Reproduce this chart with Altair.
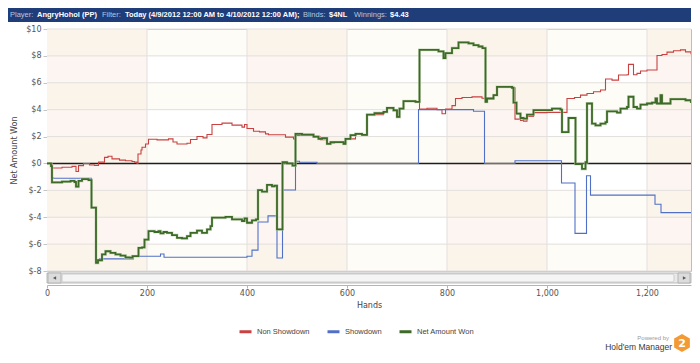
import altair as alt
import pandas as pd

# ---------------- data ----------------
red_hands = [0, 10, 30, 50, 58, 63, 73, 85, 95, 103, 115, 122, 130, 145, 157, 170, 175, 180, 182, 188,
             190, 197, 203, 220, 243, 252, 260, 280, 287, 300, 312, 320, 330, 350, 370, 390, 395, 400,
             413, 425, 437, 443, 467, 477, 493, 497, 533, 547, 560, 575, 593, 597, 617, 630, 640, 673,
             680, 693, 700, 705, 713, 737, 745, 760, 780, 790, 797, 810, 817, 830, 850, 870, 877, 880,
             893, 900, 930, 936, 947, 953, 960, 973, 1000, 1027, 1040, 1055, 1067, 1080, 1093, 1107,
             1117, 1130, 1143, 1160, 1163, 1170, 1173, 1180, 1187, 1200, 1217, 1220, 1230, 1240, 1253,
             1267, 1277, 1288]
red_vals = [0, -0.34, -0.28, -0.22, -0.6, -0.16, 0.0, -0.12, -0.15, 0.1, 0.45, 0.54, 0.34, 0.25, 0.2,
            0.15, 0.1, 0.0, 0.7, 1.0, 1.2, 1.45, 1.8, 1.75, 1.83, 1.6, 1.45, 1.5, 1.78, 2.0, 1.9, 2.15,
            2.9, 3.0, 2.85, 2.7, 2.9, 2.6, 2.4, 2.35, 2.2, 2.13, 2.13, 1.96, 1.83, 2.08, 1.96, 1.76, 1.5,
            1.6, 1.46, 1.83, 2.2, 2.1, 3.63, 3.83, 4.13, 4.0, 3.46, 4.08, 4.63, 4.58, 4.05, 4.1, 4.0,
            3.7, 4.05, 4.3, 4.83, 4.9, 4.95, 4.85, 4.58, 4.83, 5.08, 5.7, 5.63, 3.3, 3.2, 3.15, 3.5,
            3.78, 3.8, 3.8, 4.83, 4.9, 5.08, 5.2, 5.33, 5.46, 6.28, 6.2, 6.58, 6.6, 7.37, 7.37, 6.6,
            6.7, 6.88, 6.95, 6.95, 8.03, 8.1, 8.28, 8.38, 8.45, 8.3, 8.13]

blue_hands = [0, 9, 12, 88, 89, 98, 105, 173, 227, 234, 400, 410, 422, 442, 460, 471, 497, 505, 540,
              743, 853, 875, 936, 1029, 1056, 1079, 1087, 1216, 1228, 1288]
blue_vals = [0, -1.04, -1.1, -1.1, -3.3, -7.15, -7.1, -6.9, -6.73, -6.98, -6.9, -6.45, -4.36, -3.9,
             -7.03, -1.98, 0.16, 0.09, 0.0, 4.0, 3.88, 0.0, 0.2, -1.46, -5.2, -0.91, -2.36, -3.03,
             -3.66, -3.66]

green_hands = [0, 8, 10, 30, 47, 55, 58, 63, 70, 83, 89, 98, 102, 110, 117, 127, 137, 147, 157, 165,
               171, 183, 190, 195, 203, 215, 223, 227, 233, 240, 250, 260, 270, 280, 287, 300, 310,
               320, 327, 330, 357, 370, 390, 395, 400, 410, 418, 422, 430, 440, 450, 455, 460, 471,
               480, 491, 497, 510, 533, 543, 550, 560, 567, 593, 597, 607, 617, 630, 640, 655, 673,
               680, 693, 700, 705, 713, 737, 745, 783, 793, 797, 810, 823, 843, 853, 863, 871, 877,
               880, 893, 900, 930, 933, 939, 947, 953, 960, 973, 1010, 1027, 1030, 1043, 1057, 1070,
               1077, 1080, 1090, 1097, 1107, 1117, 1120, 1140, 1147, 1160, 1163, 1170, 1173, 1180,
               1187, 1200, 1210, 1217, 1220, 1227, 1230, 1247, 1267, 1277, 1288]
green_vals = [0, -0.2, -1.41, -1.35, -1.29, -1.38, -1.73, -1.3, -1.16, -1.24, -3.28, -7.4, -7.2,
              -6.77, -6.53, -6.65, -6.77, -6.85, -6.98, -7.0, -6.9, -6.28, -6.25, -5.66, -5.03, -5.1,
              -5.03, -5.2, -5.1, -5.16, -5.33, -5.53, -5.58, -5.41, -5.16, -4.99, -5.16, -4.91, -4.66,
              -4.03, -3.98, -4.16, -4.28, -4.08, -4.41, -4.23, -4.16, -1.99, -2.1, -1.6, -1.7, -1.65,
              -4.9, 0.09, 0.0, -0.16, 2.2, 2.15, 2.0, 1.83, 1.88, 1.46, 1.58, 1.46, 1.83, 2.1, 2.2,
              2.13, 3.63, 3.75, 3.83, 4.13, 3.95, 3.46, 4.08, 4.63, 4.58, 8.45, 8.33, 7.83, 8.2, 8.58,
              9.0, 8.93, 8.8, 8.7, 8.58, 4.58, 4.83, 5.08, 5.7, 5.63, 4.53, 3.71, 3.38, 3.33, 3.63,
              3.96, 4.08, 4.0, 2.33, 3.38, -0.04, -0.41, 0.09, 4.46, 2.96, 2.83, 2.96, 3.08, 3.88,
              3.78, 4.08, 4.2, 4.96, 4.96, 4.2, 4.08, 4.38, 4.46, 4.53, 4.83, 4.46, 5.08, 4.46, 4.78,
              4.78, 4.7, 4.5]

series_names = ["Non Showdown", "Showdown", "Net Amount Won"]
x_ticks = [0, 200, 400, 600, 800, 1000, 1200]
y_ticks = [-8, -6, -4, -2, 0, 2, 4, 6, 8, 10]
x_max = 1288

header_parts = [
    ("Player:", False), ("AngryHohol (PP)", True), ("Filter:", False),
    ("Today (4/9/2012 12:00 AM to 4/10/2012 12:00 AM);", True), ("Blinds:", False),
    ("$4NL", True), ("Winnings:", False), ("$4.43", True),
]
header_x = [-37, -10, 55, 78, 256, 282, 307, 343]

# ---------------- tables ----------------
red_df = pd.DataFrame({"hand": red_hands, "value": red_vals, "series": series_names[0]})
blue_df = pd.DataFrame({"hand": blue_hands, "value": blue_vals, "series": series_names[1]})
green_df = pd.DataFrame({"hand": green_hands, "value": green_vals, "series": series_names[2]})

col_starts = x_ticks[0::2]
col_df = pd.DataFrame({"hand": col_starts, "hand2": [min(s + 200, x_max) for s in col_starts]})
row_starts = y_ticks[0::2]
row_df = pd.DataFrame({"value": row_starts, "value2": [s + 2 for s in row_starts]})
vgrid_df = pd.DataFrame({"hand": x_ticks[1:]})
hgrid_df = pd.DataFrame({"value": y_ticks})
zero_df = pd.DataFrame({"value": [0]})
one = pd.DataFrame({"a": [0]})

W, H = 644, 242

x_scale = alt.Scale(domain=[0, x_max], nice=False, zero=False)
y_scale = alt.Scale(domain=[-8, 10], nice=False, zero=False)

x_axis = alt.Axis(values=x_ticks, format=",.0f", grid=False, offset=14, domainColor="#b4b4b4",
                  tickColor="#b4b4b4", tickSize=3, labelFont="DejaVu Sans", labelFontSize=8,
                  labelColor="#555555", labelPadding=1, labelFlush=False, title="Hands",
                  titleFont="DejaVu Sans", titleFontSize=8, titleFontWeight="normal",
                  titleColor="#444444", titlePadding=4)
y_axis = alt.Axis(values=y_ticks, labelExpr="'$' + datum.value", grid=False, domain=False,
                  tickColor="#c4c4c4", tickSize=4, labelFont="DejaVu Sans", labelFontSize=8,
                  labelColor="#555555", labelPadding=2, labelFlush=False, title="Net Amount Won",
                  titleFont="DejaVu Sans", titleFontSize=8, titleFontWeight="normal",
                  titleColor="#444444", titlePadding=7)

X = alt.X("hand:Q", scale=x_scale, axis=x_axis)
Y = alt.Y("value:Q", scale=y_scale, axis=y_axis)

color_scale = alt.Scale(domain=series_names, range=["#c94141", "#5070c8", "#3d6a26"])
legend = alt.Legend(orient="none", legendX=191, legendY=295, direction="horizontal", title=None,
                    symbolType="stroke", symbolStrokeWidth=3, symbolSize=144,
                    labelFont="Liberation Sans", labelFontSize=7.5, labelColor="#444444",
                    labelOffset=4, columnPadding=11)
C = alt.Color("series:N", scale=color_scale, legend=legend)

# ---------------- background ----------------
cols = alt.Chart(col_df).mark_rect(color="#fcf5f1").encode(x=X, x2="hand2:Q")
rows = alt.Chart(row_df).mark_rect(color="#f6f1d8", opacity=0.2).encode(y=Y, y2="value2:Q")
vgrid = alt.Chart(vgrid_df).mark_rule(color="#e3dfdc", strokeWidth=1).encode(x=X)
hgrid = alt.Chart(hgrid_df).mark_rule(color="#e3dfdc", strokeWidth=1).encode(y=Y)
zero = alt.Chart(zero_df).mark_rule(color="#1e1e1e", strokeWidth=1.5).encode(y=Y)

# ---------------- series ----------------
red = alt.Chart(red_df).mark_line(interpolate="step-after", strokeWidth=1.1, clip=True).encode(x=X, y=Y, color=C)
blue = alt.Chart(blue_df).mark_line(interpolate="step-after", strokeWidth=1.1, clip=True).encode(x=X, y=Y, color=C)
halo = alt.Chart(green_df).mark_line(interpolate="step-after", strokeWidth=3.0, color="#c3d5b6",
                                     opacity=0.7, clip=True).encode(x=X, y=Y)
green = alt.Chart(green_df).mark_line(interpolate="step-after", strokeWidth=1.8, clip=True).encode(x=X, y=Y, color=C)

# ---------------- header bar ----------------
header_bg = alt.Chart(one).mark_rect(color="#1f3d79").encode(
    x=alt.value(-39), x2=alt.value(W), y=alt.value(-21), y2=alt.value(-7))
header_layers = [header_bg]
for (txt, bold), hx in zip(header_parts, header_x):
    header_layers.append(
        alt.Chart(one).mark_text(text=txt, align="left", baseline="middle", font="Liberation Sans",
                                 fontSize=7.5, fontWeight="bold" if bold else "normal",
                                 color="#ffffff" if bold else "#b9c6df")
        .encode(x=alt.value(hx), y=alt.value(-14)))

# ---------------- scrollbar ----------------
sb = [
    alt.Chart(one).mark_rect(color="#e9e9e9", stroke="#a9a9a9", strokeWidth=0.8).encode(
        x=alt.value(0), x2=alt.value(W), y=alt.value(244), y2=alt.value(254)),
    alt.Chart(one).mark_rect(color="#dcdcdc", stroke="#a9a9a9", strokeWidth=0.8).encode(
        x=alt.value(1), x2=alt.value(14), y=alt.value(244), y2=alt.value(254)),
    alt.Chart(one).mark_rect(color="#dcdcdc", stroke="#a9a9a9", strokeWidth=0.8).encode(
        x=alt.value(631), x2=alt.value(W - 1), y=alt.value(244), y2=alt.value(254)),
    alt.Chart(one).mark_rect(color="#f5f5f5", stroke="#c2c2c2", strokeWidth=0.8, cornerRadius=2).encode(
        x=alt.value(15), x2=alt.value(627), y=alt.value(245), y2=alt.value(253)),
    alt.Chart(one).mark_point(shape="triangle-left", filled=True, size=14, color="#222222").encode(
        x=alt.value(7.5), y=alt.value(249)),
    alt.Chart(one).mark_point(shape="triangle-right", filled=True, size=14, color="#222222").encode(
        x=alt.value(637.5), y=alt.value(249)),
]

# ---------------- logo ----------------
logo = [
    alt.Chart(one).mark_text(text="Powered by", align="right", baseline="middle", font="Liberation Sans",
                             fontSize=6, color="#9a9a9a").encode(x=alt.value(622), y=alt.value(309)),
    alt.Chart(one).mark_text(text="Hold'em Manager", align="right", baseline="middle", font="Liberation Sans",
                             fontSize=8.5, color="#3a3a3a").encode(x=alt.value(625), y=alt.value(318)),
    alt.Chart(one).mark_point(shape="M0,-1L0.866,-0.5L0.866,0.5L0,1L-0.866,0.5L-0.866,-0.5Z", filled=True,
                              size=330, color="#f39a34", opacity=1).encode(x=alt.value(635), y=alt.value(314)),
    alt.Chart(one).mark_text(text="2", align="center", baseline="middle", font="DejaVu Sans",
                             fontSize=11, fontWeight="bold", color="#ffffff").encode(x=alt.value(635), y=alt.value(314.5)),
]

chart = alt.layer(
    cols, rows, vgrid, hgrid, zero, red, blue, halo, green,
    *header_layers, *sb, *logo
).properties(width=W, height=H, padding=0, background="#ffffff").configure_view(
    stroke="#bdbdbd", strokeWidth=1
)

chart.save("out.html", embed_options={"renderer": "svg", "actions": False})
